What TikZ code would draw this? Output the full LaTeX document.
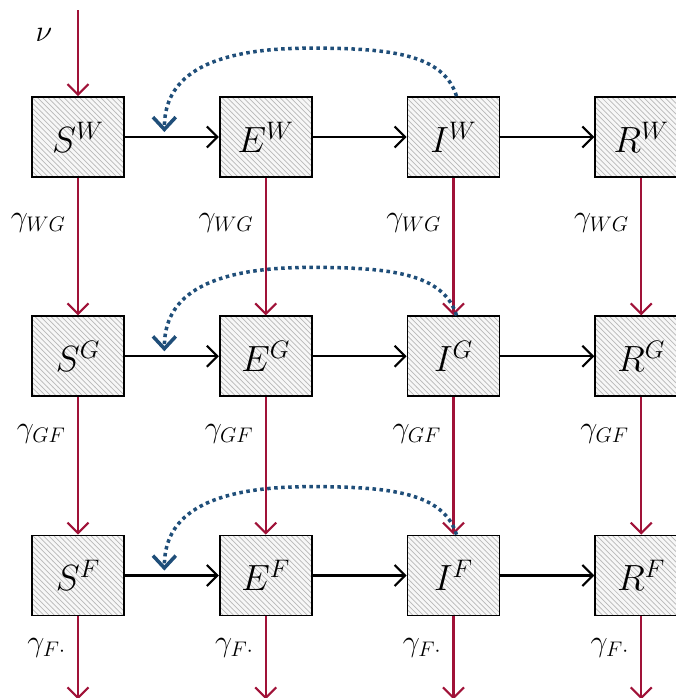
\documentclass[tikz,border=0pt]{standalone}
\usepackage{amsmath}
\definecolor{flowred}{RGB}{160,18,56}
\definecolor{dotblue}{RGB}{31,78,121}
\usetikzlibrary{arrows.meta, positioning, patterns, calc}

\begin{document}
\begin{tikzpicture}[
    box/.style={draw,line width=1pt,minimum width=1.84cm,minimum height=1.6cm,inner sep=0pt,
                preaction={fill=gray!6},pattern=north west lines,pattern color=gray!55,
                font=\huge},
    flow/.style={-{Straight Barb[length=6pt,width=12pt]},line width=1.2pt},
    migr/.style={-{Straight Barb[length=6pt,width=12pt]},line width=1.2pt,flowred},
    infect/.style={-{Straight Barb[length=7pt,width=13pt]},dotblue,line width=2pt,
                   dash pattern=on 2pt off 2pt},
    rate/.style={left,xshift=-3pt,text=black,font=\LARGE}]
  \useasboundingbox (0,0) rectangle (13.52,-13.96);
  \clip (0,0) rectangle (13.52,-13.96);

  % row W
  \node[box] (sw) at (1.56,-2.74) {$S^{W}$};
  \node[box,right=1.88cm of sw] (ew) {$E^{W}$};
  \node[box,right=1.88cm of ew] (iw) {$I^{W}$};
  \node[box,right=1.88cm of iw] (rw) {$R^{W}$};
  % row G
  \node[box,below=2.75cm of sw] (sg) {$S^{G}$};
  \node[box,right=1.88cm of sg] (eg) {$E^{G}$};
  \node[box,right=1.88cm of eg] (ig) {$I^{G}$};
  \node[box,right=1.88cm of ig] (rg) {$R^{G}$};
  % row F
  \node[box,below=2.75cm of sg] (sf) {$S^{F}$};
  \node[box,right=1.88cm of sf] (ef) {$E^{F}$};
  \node[box,right=1.88cm of ef] (if) {$I^{F}$};
  \node[box,right=1.88cm of if] (rf) {$R^{F}$};

  % births
  \coordinate (birth) at (1.56,-0.2);
  \node[font=\LARGE] (nu) at (0.88,-0.70) {$\nu$};
  \draw[migr] (birth) -- (sw);

  % progression
  \draw[flow] (sw) -- (ew);
  \draw[flow] (ew) -- (iw);
  \draw[flow] (iw) -- (rw);
  \draw[flow] (sg) -- (eg);
  \draw[flow] (eg) -- (ig);
  \draw[flow] (ig) -- (rg);
  \draw[flow] (sf) -- (ef);
  \draw[flow] (ef) -- (if);
  \draw[flow] (if) -- (rf);

  % movement W -> G -> F
  \draw[migr] (sw) -- node[rate,pos=0.33]{$\gamma_{WG}$} (sg);
  \draw[migr] (ew) -- node[rate,pos=0.33]{$\gamma_{WG}$} (eg);
  \draw[migr] (iw) -- node[rate,pos=0.33]{$\gamma_{WG}$} (ig);
  \draw[migr] (rw) -- node[rate,pos=0.33]{$\gamma_{WG}$} (rg);
  \draw[migr] (sg) -- node[rate,pos=0.27]{$\gamma_{GF}$} (sf);
  \draw[migr] (eg) -- node[rate,pos=0.27]{$\gamma_{GF}$} (ef);
  \draw[migr] (ig) -- node[rate,pos=0.27]{$\gamma_{GF}$} (if);
  \draw[migr] (rg) -- node[rate,pos=0.27]{$\gamma_{GF}$} (rf);

  % leaving F
  \foreach \c in {sf,ef,if,rf}{
    \coordinate (out\c) at ($(\c.south)+(0,-1.66)$);
    \draw[migr] (\c) -- node[rate,pos=0.38]{$\gamma_{F\cdot}$} (out\c);
  }

  % infection pressure
  \foreach \r in {w,g,f}{
    \coordinate (hit\r) at ($(s\r.east)!0.42!(e\r.west)+(0,0.1)$);
    \draw[infect] ($(i\r.north)+(0.06,0)$) .. controls +(-0.26,0.84) and +(1.6,0) ..
      ($(i\r.north)+(-2.86,0.96)$) .. controls +(-2.4,0) and +(0,0.9) .. (hit\r);
  }
\end{tikzpicture}
\end{document}
